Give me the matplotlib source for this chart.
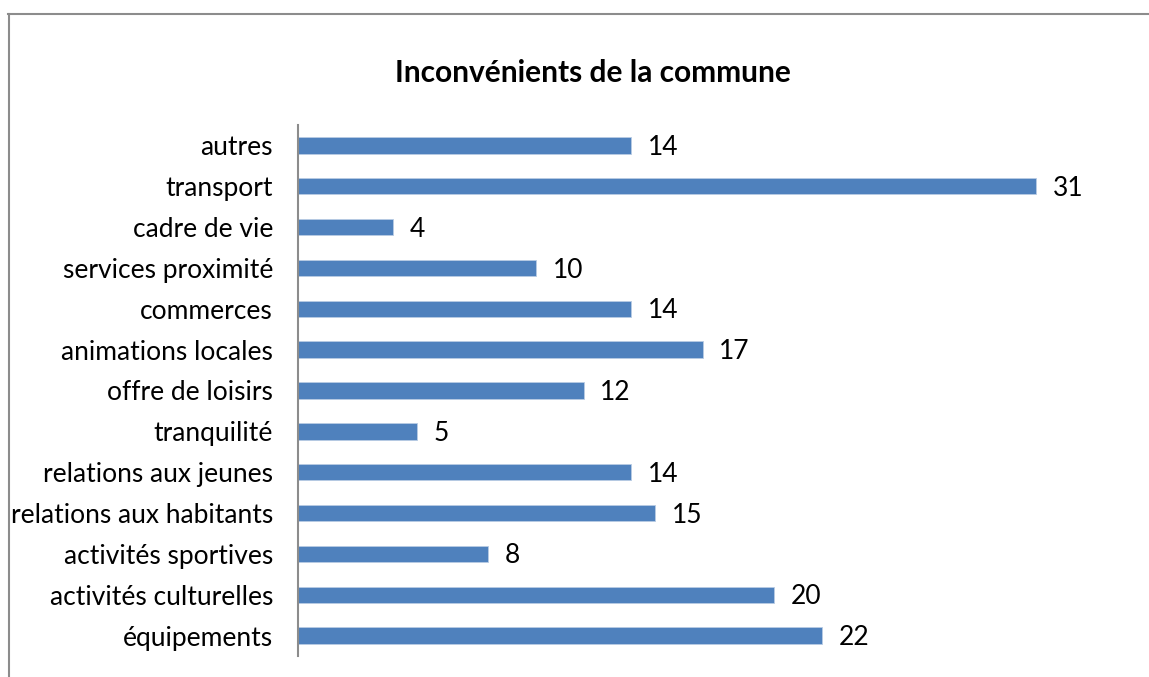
import matplotlib.pyplot as plt
from matplotlib.lines import Line2D

plt.rcParams['font.family'] = ['Lato', 'DejaVu Sans']

# categories from bottom to top
categories = ['équipements', 'activités culturelles', 'activités sportives',
              'relations aux habitants', 'relations aux jeunes', 'tranquilité',
              'offre de loisirs', 'animations locales', 'commerces',
              'services proximité', 'cadre de vie', 'transport', 'autres']
values = [22, 20, 8, 15, 14, 5, 12, 17, 14, 10, 4, 31, 14]

W, H = 1149, 677
fig = plt.figure(figsize=(W / 100, H / 100), dpi=100)

# chart frame (only top and left edges visible in the crop)
fig.add_artist(Line2D([8 / W, 1], [1 - 13.5 / H, 1 - 13.5 / H], color='#8c8c8c', lw=1.5))
fig.add_artist(Line2D([8.5 / W, 8.5 / W], [0, 1 - 13.5 / H], color='#8c8c8c', lw=1.5))

ax = fig.add_axes([298 / W, 21 / H, 833 / W, 531 / H])
y = range(len(categories))
bars = ax.barh(y, values, height=0.4, color='#4F81BD', edgecolor='#b8cce4', linewidth=0.6)

ax.set_xlim(0, 35)
ax.set_ylim(-0.5, len(categories) - 0.5)
ax.set_yticks(list(y))
ax.set_yticklabels(categories, fontsize=19)
ax.tick_params(axis='y', length=0, pad=18)
ax.set_xticks([])
for s in ['top', 'right', 'bottom']:
    ax.spines[s].set_visible(False)
ax.spines['left'].set_color('#8c8c8c')
ax.spines['left'].set_linewidth(1.5)

for yi, v in zip(y, values):
    ax.annotate(str(v), (v, yi), xytext=(12, -1.5), textcoords='offset points',
                va='center', ha='left', fontsize=19)

fig.text(593 / W, 1 - 73 / H, 'Inconvénients de la commune', ha='center', va='center',
         fontsize=21.5, fontweight='bold')

fig.savefig('out.png', dpi=100)
